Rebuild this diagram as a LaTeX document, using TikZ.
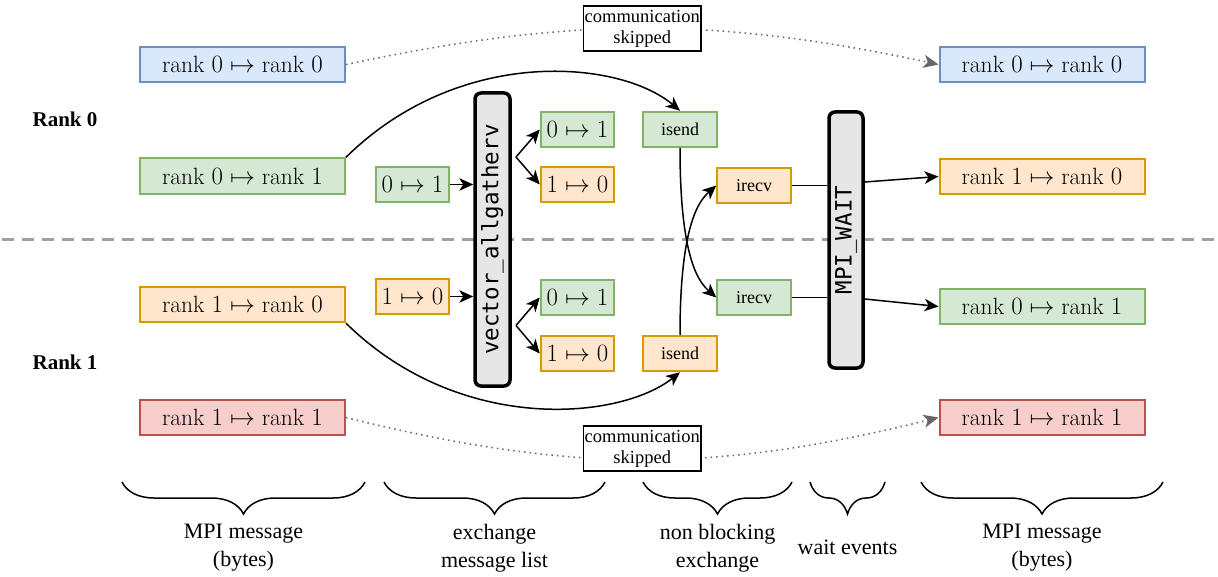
\documentclass[tikz,border=0pt]{standalone}
\usepackage{fontspec}
\newfontfamily\tnr{Liberation Serif}
\newfontfamily\dmono{DejaVu Sans Mono}
\usetikzlibrary{arrows.meta,decorations.pathreplacing}

\definecolor{blueF}{HTML}{DAE8FC}
\definecolor{blueD}{HTML}{6C8EBF}
\definecolor{greenF}{HTML}{D5E8D4}
\definecolor{greenD}{HTML}{82B366}
\definecolor{orangeF}{HTML}{FFE6CC}
\definecolor{orangeD}{HTML}{D79B00}
\definecolor{redF}{HTML}{F8CECC}
\definecolor{redD}{HTML}{B85450}
\definecolor{callF}{HTML}{E6E6E6}
\definecolor{skipD}{HTML}{666666}
\definecolor{sepD}{HTML}{A0A0A0}

\tikzset{
  mbox/.style={draw, line width=2pt, inner sep=0pt, minimum height=35.5pt,
    font=\fontsize{23.5}{27}\selectfont},
  wide/.style={mbox, minimum width=205pt},
  short/.style={mbox, minimum width=73.5pt},
  opbox/.style={mbox, minimum width=73.5pt, font=\tnr\fontsize{18}{21}\selectfont},
  bl/.style={fill=blueF, draw=blueD},
  gr/.style={fill=greenF, draw=greenD},
  og/.style={fill=orangeF, draw=orangeD},
  rd/.style={fill=redF, draw=redD},
  callbox/.style={draw, line width=3.5pt, rounded corners=6pt, fill=callF,
    inner sep=0pt, font=\dmono\fontsize{22.5}{26}\selectfont},
  skipbox/.style={draw=black, solid, fill=white, line width=1.5pt, inner sep=1pt,
    minimum width=117pt, minimum height=45pt, align=center,
    font=\tnr\fontsize{18.5}{21}\selectfont},
  skipline/.style={draw=skipD, line width=1.5pt, dash pattern=on 1.5pt off 4pt,
    -{Stealth[length=15pt,width=13pt,inset=4pt]}},
  con/.style={line width=1.5pt},
  arr/.style={con, -{Stealth[length=14pt,width=12.5pt,inset=4pt]}},
  ranklabel/.style={font=\tnr\bfseries\fontsize{21}{25}\selectfont},
  steplabel/.style={align=center, font=\tnr\fontsize{22}{28}\selectfont},
  stepbrace/.style={line width=1.5pt, decorate,
    decoration={brace, mirror, amplitude=32pt}},
}

\begin{document}
\begin{tikzpicture}[x=1pt,y=-1pt]
  \useasboundingbox (0,0) rectangle (1218,577);

  % rank separation
  \draw[sepD, line width=3pt, dash pattern=on 12pt off 8pt] (2,240) -- (1218,240);
  \node[ranklabel] (rk0) at (65,119) {Rank 0};
  \node[ranklabel] (rk1) at (65,362) {Rank 1};

  % input messages
  \node[wide,bl] (l00) at (242.5,64.5) {$\mathrm{rank}\ 0 \mapsto \mathrm{rank}\ 0$};
  \node[wide,gr] (l01) at (242.5,176) {$\mathrm{rank}\ 0 \mapsto \mathrm{rank}\ 1$};
  \node[wide,og] (l10) at (242.5,304.5) {$\mathrm{rank}\ 1 \mapsto \mathrm{rank}\ 0$};
  \node[wide,rd] (l11) at (242.5,417.5) {$\mathrm{rank}\ 1 \mapsto \mathrm{rank}\ 1$};

  % output messages
  \node[wide,bl] (r00) at (1042,64.5) {$\mathrm{rank}\ 0 \mapsto \mathrm{rank}\ 0$};
  \node[wide,og] (r10) at (1042,176.5) {$\mathrm{rank}\ 1 \mapsto \mathrm{rank}\ 0$};
  \node[wide,gr] (r01) at (1042,306.5) {$\mathrm{rank}\ 0 \mapsto \mathrm{rank}\ 1$};
  \node[wide,rd] (r11) at (1042,417.5) {$\mathrm{rank}\ 1 \mapsto \mathrm{rank}\ 1$};

  % exchange message list
  \node[short,gr] (in0) at (412.5,184.5) {$0 \mapsto 1$};
  \node[short,og] (in1) at (412.5,296.5) {$1 \mapsto 0$};
  \node[callbox, minimum height=293pt, minimum width=35pt] (gather) at (492.5,239.5) {\rotatebox{90}{vector\_allgatherv}};
  \node[short,gr] (o00) at (577.5,129.5) {$0 \mapsto 1$};
  \node[short,og] (o01) at (577.5,184.5) {$1 \mapsto 0$};
  \node[short,gr] (o10) at (577.5,297.5) {$0 \mapsto 1$};
  \node[short,og] (o11) at (577.5,353.5) {$1 \mapsto 0$};
  \coordinate (f0) at (516,157);
  \coordinate (f1) at (516,325.5);

  % non blocking exchange
  \node[opbox,gr] (isend0) at (680,129.5) {isend};
  \node[opbox,og] (isend1) at (680,353.5) {isend};
  \node[opbox,og] (irecv0) at (754,185.5) {irecv};
  \node[opbox,gr] (irecv1) at (754,297.5) {irecv};
  \node[callbox, minimum height=256pt, minimum width=34pt] (wait) at (846,240) {\rotatebox{90}{MPI\_WAIT}};

  % connectors
  \draw[skipline] (l00.east) to[bend left=12] node[skipbox] {communication\\skipped} (r00.west);
  \draw[skipline] (l11.east) to[bend right=14] node[skipbox, yshift=11pt] {communication\\skipped} (r11.west);
  \draw[arr] (l01.north east) .. controls (460,45) and (620,60) .. (isend0.north);
  \draw[arr] (l10.south east) .. controls (460,435) and (620,420) .. (isend1.south);
  \draw[arr] (in0.east) -- (in0.east -| gather.west);
  \draw[arr] (in1.east) -- (in1.east -| gather.west);
  \draw[arr] (f0) -- (o00.west);
  \draw[arr] (f0) -- (o01.west);
  \draw[arr] (f1) -- (o10.west);
  \draw[arr] (f1) -- (o11.west);
  \draw[arr] (isend0.south) .. controls (680,262) and (700,283) .. (irecv1.west);
  \draw[arr] (isend1.north) .. controls (680,222) and (700,200) .. (irecv0.west);
  \draw[con] (irecv0.east) -- (irecv0.east -| wait.west);
  \draw[con] (irecv1.east) -- (irecv1.east -| wait.west);
  \draw[arr] ([yshift=3.5pt]irecv0.east -| wait.east) -- (r10.west);
  \draw[arr] ([yshift=-1.5pt]irecv1.east -| wait.east) -- (r01.west);

  % steps
  \draw[stepbrace] (122,482) -- (365,482);
  \draw[stepbrace] (384,482) -- (605,482);
  \draw[stepbrace] (643,482) -- (792,482);
  \draw[stepbrace] (810,482) -- (885,482);
  \draw[stepbrace] (921,482) -- (1163,482);
  \node[steplabel] (s1) at (243.5,548) {MPI message\\(bytes)};
  \node[steplabel] (s2) at (494.5,548) {exchange\\message list};
  \node[steplabel] (s3) at (717.5,548) {non blocking\\exchange};
  \node[steplabel] (s4) at (847.5,547) {wait events};
  \node[steplabel] (s5) at (1042,548) {MPI message\\(bytes)};
\end{tikzpicture}
\end{document}
